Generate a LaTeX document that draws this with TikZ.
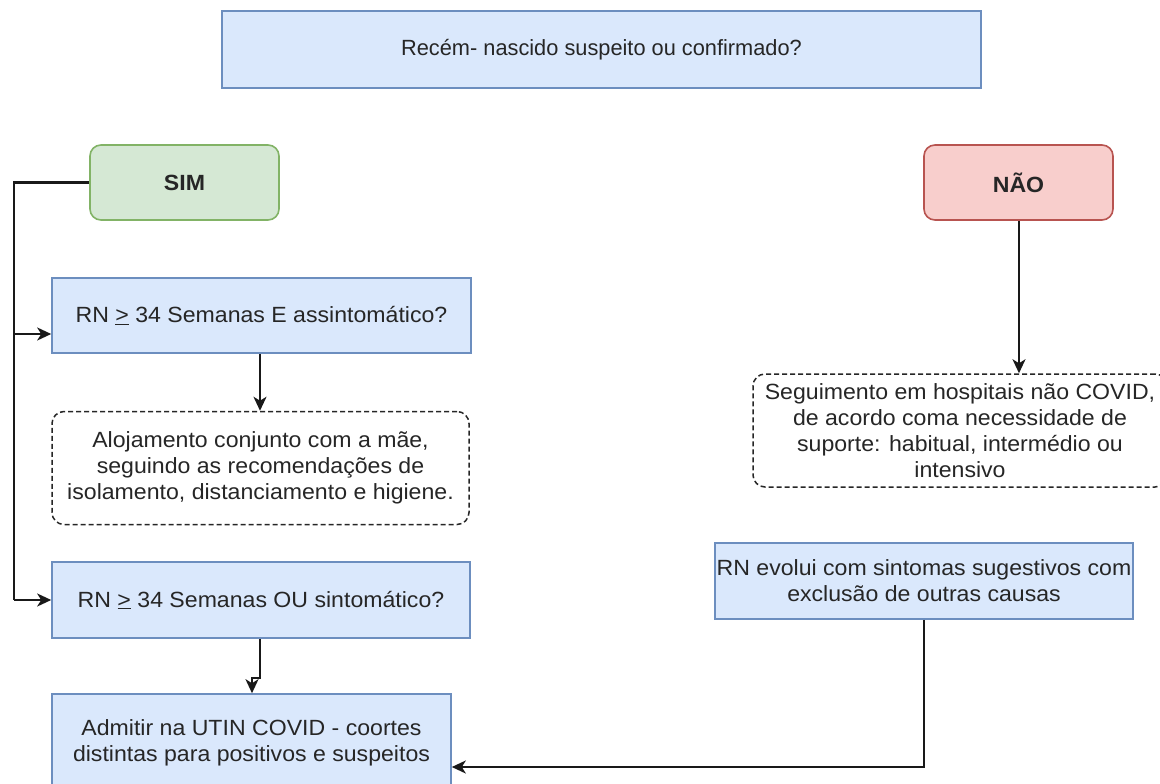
\documentclass[tikz,border=0pt]{standalone}
\usepackage{fontspec}
\setmainfont{Liberation Sans}
\newfontfamily\wfont[FakeStretch=1.05]{Liberation Sans}
\newfontfamily\tfont[FakeStretch=0.99]{Liberation Sans}
\usetikzlibrary{arrows.meta}
\definecolor{bfill}{HTML}{DAE8FC}
\definecolor{bdraw}{HTML}{6C8EBF}
\definecolor{gfill}{HTML}{D5E8D4}
\definecolor{gdraw}{HTML}{82B366}
\definecolor{rfill}{HTML}{F8CECC}
\definecolor{rdraw}{HTML}{B85450}
\definecolor{txt}{HTML}{262626}
\tikzset{
  base/.style={line width=1.6pt, font=\wfont\fontsize{22}{26}\selectfont, text=txt, align=center, inner sep=0pt, rectangle},
  bluebox/.style={base, draw=bdraw, fill=bfill},
  yesbox/.style={base, draw=gdraw, fill=gfill, rounded corners=11pt, font=\wfont\bfseries\fontsize{22}{26}\selectfont},
  nobox/.style={base, draw=rdraw, fill=rfill, rounded corners=11pt, font=\wfont\bfseries\fontsize{22}{26}\selectfont},
  notebox/.style={base, draw=black!85, fill=white, rounded corners=12pt, dash pattern=on 5pt off 3pt, line width=1.5pt},
  conn/.style={line width=2.2pt, draw=black!90},
  arr/.style={conn, -{Stealth[length=14pt,width=13pt,inset=4pt]}}
}
\begin{document}
\begin{tikzpicture}[x=1pt,y=-1pt]
\useasboundingbox (0,0) rectangle (1160,784);
\fill[white] (0,0) rectangle (1160,784);
\clip (0,0) rectangle (1160,784);

\node[bluebox, minimum width=759pt, minimum height=77pt, font=\tfont\fontsize{22}{26}\selectfont] (top) at (601.5,49.5) {Recém- nascido suspeito ou confirmado?};

\node[yesbox, minimum width=189pt, minimum height=75pt] (sim) at (184.5,182.5) {SIM};
\node[nobox, minimum width=189pt, minimum height=75pt] (nao) at (1018.5,182.5) {NÃO};

\node[bluebox, minimum width=419pt, minimum height=75pt] (b1) at (261.5,315.5) {RN \underline{>} 34 Semanas E assintomático?};
\node[notebox, minimum width=417pt, minimum height=113pt] (n1) at (260.5,468) {Alojamento conjunto com a mãe,\\seguindo as recomendações de\\isolamento, distanciamento e higiene.};
\node[bluebox, minimum width=418pt, minimum height=76pt] (b2) at (261,600) {RN \underline{>} 34 Semanas OU sintomático?};
\node[bluebox, minimum width=399pt, minimum height=98pt] (b3) at (251.5,743) {Admitir na UTIN COVID - coortes\\distintas para positivos e suspeitos};

\node[notebox, minimum width=414pt, minimum height=113pt] (n2) at (960,430.5) {Seguimento em hospitais não COVID,\\de acordo coma necessidade de\\suporte: habitual, intermédio ou\\intensivo};
\node[bluebox, minimum width=418pt, minimum height=76pt] (b4) at (924,581) {RN evolui com sintomas sugestivos com\\exclusão de outras causas};

\coordinate (lx) at (14,0);
\draw[conn] (sim.west) -- (lx |- sim.west) -- (lx |- b2.west);
\draw[arr] (lx |- 0,334) -- (b1.west |- 0,334);
\draw[arr] (lx |- b2.west) -- (b2.west);
\draw[arr] (260,0 |- b1.south) -- (260,0 |- n1.north);
\draw[arr] (260,0 |- b2.south) -- (260,678) -- (252,678) -- (252,0 |- b3.north);
\draw[arr] (1019,0 |- nao.south) -- (1019,0 |- n2.north);
\draw[arr] (b4.south) -- (924,767) -- (b3.east |- 0,767);
\end{tikzpicture}
\end{document}
